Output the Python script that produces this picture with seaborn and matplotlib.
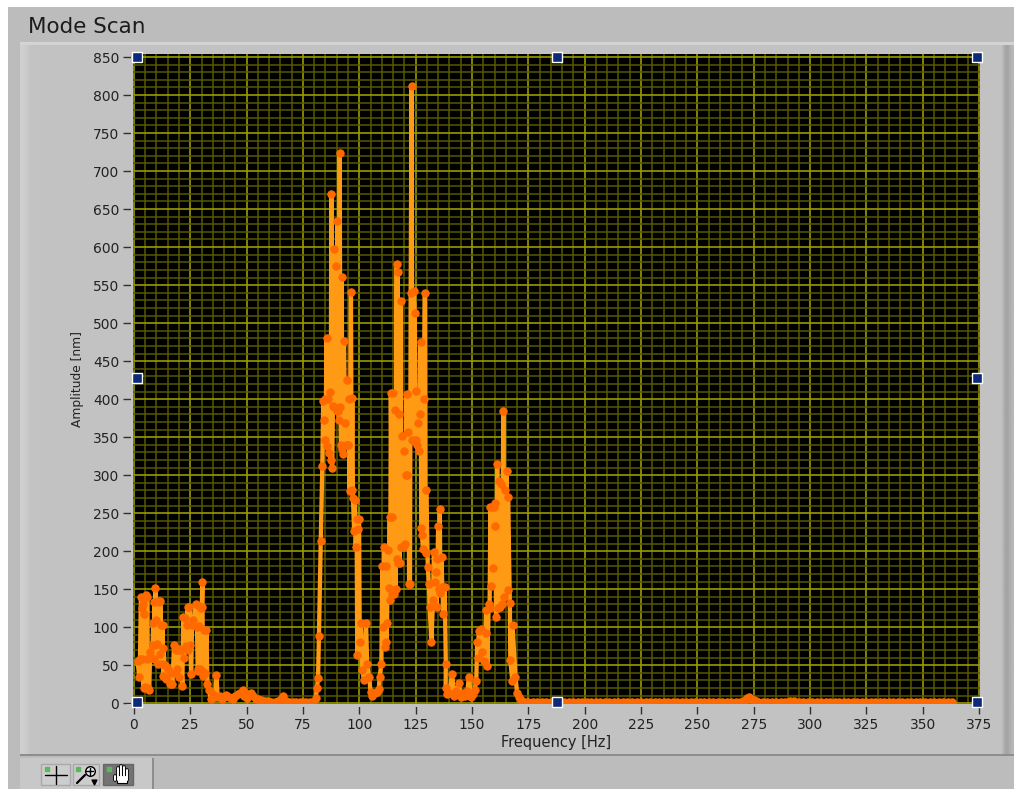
import numpy as np
import pandas as pd
import matplotlib
matplotlib.use('Agg')
import matplotlib.pyplot as plt
from matplotlib.patches import Rectangle
import seaborn as sns

# values
freq_low = [1.6,2.4,2.7,3.1,3.4,3.8,4.0,4.3,4.6,4.9,5.3,5.6,5.9,6.3,6.8,7.2,7.6,8.3,8.6,8.9,9.0,9.3,9.5,9.8,10.1,10.5,10.8,11.2,11.4,11.7,12.0,12.4,12.7,13.0,13.1,13.6,14.2,15.0,15.8,16.4,17.1,17.8,18.2,18.6,19.0,19.4,19.8,20.2,20.8,21.5,21.9,22.3,22.6,23.0,23.4,23.8,24.2,24.6,25.0,25.4,25.8,26.4,27.5,28.0,28.3,28.5,28.8,29.0,29.3,29.6,30.0,30.1,30.4,30.6,31.0,31.5,32.2,32.6,33.3,
            34.1,35,36,36.6,37.2,38,39,40,41,42,43,44,45,46,47,48.2,49,50,51,52,53,54,55,56.5,58,59.5,61,62.5,64,65.2,66.3,67.5,69,70.5,72,73.5,75,76.5,78,79.5]
amp_low = [55,35,58,140,125,58,130,20,117,21,142,58,140,20,17,67,60,77,106,58,133,77,152,110,78,135,52,133,65,135,103,52,103,36,73,50,32,45,25,40,25,77,40,70,45,70,35,72,70,23,114,60,112,75,103,127,70,127,77,38,103,110,130,100,45,42,128,101,45,125,42,127,160,36,96,40,96,25,18,
           5,12,8,37,8,9,6,8,11,8,7,5,9,12,14,18,10,7,12,14,9,6,5,4,3,3,2,2,3,5,10,3,2,2,1,2,1,1,2,2]

freq_a = [80.7,81.2,81.7,82.1,82.9,83.6,84.0,84.3,84.7,85.0,85.5,85.8,86.2,86.5,87.0,87.3,87.6,87.9,88.3,88.7,89.0,89.5,89.9,90.3,90.7,91.0,91.3,91.6,91.9,92.2,92.5,92.8,93.2,93.7,94.0,94.4,94.8,95.0,95.4,95.7,96.3,96.6,96.9,97.2,97.7,98.1,98.4,98.8,99.1,99.5,99.9,100.2,100.7,101.3,102.1,103.0,103.5,104.4,105.0,105.8,106.8,107.8,108.7,109.0,109.8,110.2,110.6]
amp_a = [7,20,33,89,213,312,397,373,400,346,481,339,400,329,410,320,670,310,391,598,390,575,385,634,385,373,724,390,340,561,335,328,476,368,340,425,340,340,400,279,541,280,401,270,226,267,205,243,64,229,243,80,106,44,31,106,51,34,15,10,14,15,19,34,52,181,100]

freq_b = [111.0,111.4,111.7,112.0,112.3,112.7,113.2,113.5,113.7,114.0,114.4,114.7,115.0,115.4,115.8,116.1,116.6,116.8,117.0,117.3,117.6,117.9,118.3,118.6,119.0,119.4,119.8,120.2,120.6,121.0,121.2,121.8,122.1,122.5,122.8,123.2,123.5,123.8,124.2,124.6,125.0,125.2,125.6,126.0,126.5,126.8,127.2,127.5,127.8,128.3,128.7,129.1,129.4,129.7,130.4,130.9,131.2,132.0,132.7,133.1,133.5,133.9,134.3,134.7,135.0,135.4,135.7,136.0,136.5,136.8,137.3,137.9,138.4,138.3,139.0]
amp_b = [205,74,181,80,106,202,151,245,136,408,245,144,408,144,386,150,578,190,567,185,380,185,529,205,352,205,332,210,300,407,300,357,157,157,540,812,346,346,542,513,411,346,340,369,332,381,475,230,221,203,400,539,197,281,179,157,127,80,136,199,160,172,127,190,233,150,256,145,193,153,118,153,51,20,12]

freq_c = [140.0,141.2,142.0,143.0,144.2,145.0,146.0,147.0,148.0,148.6,149.5,150.5,151.2,151.9,152.3,152.6,153.0,153.8,154.5,155.2,156.0,156.4,156.8,157.4,157.8,158.2,158.5,158.8,159.2,159.6,160.0,160.2,160.7,161.2,161.6,162.0,162.4,163.0,163.4,163.9,164.3,164.8,165.4,165.9,166.0,166.8,167.0,167.9,168.0,169.3,170.0,170.8,171.7,172.5,173.5]
amp_c = [14,39,10,16,27,8,14,10,16,35,8,12,18,29,80,60,95,98,68,55,93,123,49,130,125,258,154,258,178,258,233,263,113,315,125,292,127,288,130,385,140,280,305,149,271,132,57,29,103,35,14,8,4,2,1]

freq_tail = [175,177,179,181,183,185,187,189,191,193,195,197,199,201,203,205,207,209,211,213,215,217,219,221,223,225,227,229,231,233,235,237,239,241,243,245,247,249,251,253,255,257,259,261,263,265,267,269,
             270,271,272,273,274,275,276,277,279,281,283,285,287,289,291,293,295,297,
             299,301,303,305,307,309,311,313,315,317,319,321,323,325,327,329,331,333,335,337,339,341,343,345,347,349,351,353,355,357,359,361,363]
amp_tail = [1,2,1,2,1,1,1,1,1,1,1,1,1,1,1,1,1,1,1,1,1,1,1,1,1,1,1,1,1,1,1,1,1,1,1,1,1,1,1,1,1,1,1,1,1,1,1,1,
            2,4,7,8,6,4,3,2,2,2,1,1,1,2,3,3,2,1,
            1,1,1,1,1,1,1,1,1,1,1,1,1,1,1,1,1,1,1,1,1,1,1,1,1,1,1,1,1,1,1,1,1]

x_ticks = list(range(0, 376, 25))
y_ticks = list(range(0, 851, 50))

df = pd.DataFrame({
    'Frequency [Hz]': freq_low + freq_a + freq_b + freq_c + freq_tail,
    'Amplitude [nm]': amp_low + amp_a + amp_b + amp_c + amp_tail,
})

sns.set_style('white')
plt.rcParams['font.family'] = ['DejaVu Sans']
W, H = 1014, 789
fig = plt.figure(figsize=(W / 100, H / 100), dpi=100, facecolor='white')

# panel behind the plot, in pixel coordinates
bg = fig.add_axes([0, 0, 1, 1], zorder=0)
bg.add_patch(Rectangle((8, 7), W - 8, H - 7, color='#bcbcbc', lw=0))
bg.add_patch(Rectangle((20, 42), 980, 713, color='#c2c2c2', lw=0))
bg.imshow([[0.81, 0.80, 0.77, 0.76, 0.76]], extent=(20, 40, 755, 45), cmap='gray', vmin=0, vmax=1,
          aspect='auto', interpolation='bilinear', zorder=2)
bg.imshow([[0.76, 0.68, 0.64, 0.68, 0.72]], extent=(1000, 1014, 755, 42), cmap='gray', vmin=0, vmax=1,
          aspect='auto', interpolation='bilinear', zorder=2)
bg.add_patch(Rectangle((20, 42), 994, 3, color='#d4d4d4', lw=0, zorder=3))
bg.set_xlim(0, W)
bg.set_ylim(H, 0)
bg.axis('off')
bg.add_patch(Rectangle((20, 754), 994, 2, color='#8e8e8e', lw=0, zorder=3))
bg.add_patch(Rectangle((20, 758), 133, 31, color='#c8c8c8', lw=0, zorder=3))
bg.add_patch(Rectangle((152, 758), 2, 31, color='#8e8e8e', lw=0, zorder=3))
bg.text(28, 27, 'Mode Scan', fontsize=15.5, color='#1c1c1c', va='center', ha='left', zorder=3)

# the graph
ax = fig.add_axes([133 / W, 1 - 704 / H, 847 / W, 650 / H], zorder=1)
ax.set_facecolor('black')
sns.lineplot(data=df, x='Frequency [Hz]', y='Amplitude [nm]', sort=False, estimator=None,
             color='#ff9a14', linewidth=3.1, marker='o', markersize=5.3,
             markerfacecolor='#ff6a00', markeredgecolor='#ff6a00', ax=ax, zorder=3)
ax.set_xlim(-0.4, 375.4)
ax.set_ylim(-1, 854)
ax.set_xticks(x_ticks)
ax.set_yticks(y_ticks)
ax.set_xticks(np.arange(0, 376, 5), minor=True)
ax.set_yticks(np.arange(0, 851, 10), minor=True)
ax.grid(which='minor', color='#585800', linewidth=1.1, zorder=1)
ax.grid(which='major', color='#9a9a00', linewidth=1.2, zorder=2)
ax.set_axisbelow(True)
ax.tick_params(which='minor', length=0)
ax.tick_params(which='major', length=7, width=1, color='#303030', labelcolor='#222222',
               labelsize=10, pad=3, bottom=True, left=True)
ax.set_xlabel('Frequency [Hz]', fontsize=10.5, color='#222222', labelpad=2)
ax.set_ylabel('Amplitude [nm]', fontsize=8.8, color='#222222', labelpad=6)
for s in ax.spines.values():
    s.set_visible(False)

# overlay: tick gaps, cursor handles, toolbar buttons
top = fig.add_axes([0, 0, 1, 1], zorder=2)
top.set_xlim(0, W)
top.set_ylim(H, 0)
top.axis('off')
top.patch.set_alpha(0)
top.add_patch(Rectangle((130.5, 50), 2.5, 657, color='#c2c2c2', lw=0))
top.add_patch(Rectangle((127, 704), 860, 3, color='#c2c2c2', lw=0))
handle_x = [137, 557, 977, 137, 977, 137, 557, 977]
handle_y = [57, 57, 57, 378, 378, 702, 702, 702]
top.scatter(handle_x, handle_y, marker='s', s=62, color='#0d2a78', edgecolor='white', linewidth=1, zorder=5)

# toolbar buttons
top.add_patch(Rectangle((41, 764), 29, 21, facecolor='#cdcdcd', edgecolor='#a8a8a8', lw=1))
top.add_patch(Rectangle((73, 764), 26, 21, facecolor='#cdcdcd', edgecolor='#a8a8a8', lw=1))
top.add_patch(Rectangle((103, 764), 30, 21, facecolor='#737373', edgecolor='#666666', lw=1))
top.plot([45, 67], [774.5, 774.5], color='black', lw=1)
top.plot([55.5, 55.5], [766, 784], color='black', lw=1)
top.scatter([89.5], [771], s=48, facecolor='#e8e8e8', edgecolor='black', linewidth=1, zorder=5)
top.plot([85, 77], [775, 783], color='black', lw=1.6)
top.plot([86, 93], [771, 771], color='black', lw=1, zorder=6)
top.plot([89.5, 89.5], [767.5, 774.5], color='black', lw=1, zorder=6)
top.scatter([94], [782], s=12, marker='v', color='black', zorder=6)
finger_x = [115, 118, 121, 124, 127]
finger_top = [776, 768, 766, 767, 770]
for fx, ft in zip(finger_x, finger_top):
    top.plot([fx, fx], [ft, 780], color='black', lw=2.6, zorder=6, solid_capstyle='round')
for fx, ft in zip(finger_x, finger_top):
    top.plot([fx, fx], [ft, 780], color='white', lw=1.4, zorder=7, solid_capstyle='round')
top.add_patch(Rectangle((117, 775), 10, 8, facecolor='white', edgecolor='black', lw=0.8, zorder=6))
top.scatter([46.5, 77.5, 109], [769, 769, 769], s=10, marker='s', color='#5cb85c', zorder=8)

fig.savefig('out.png', dpi=100, facecolor='white')
